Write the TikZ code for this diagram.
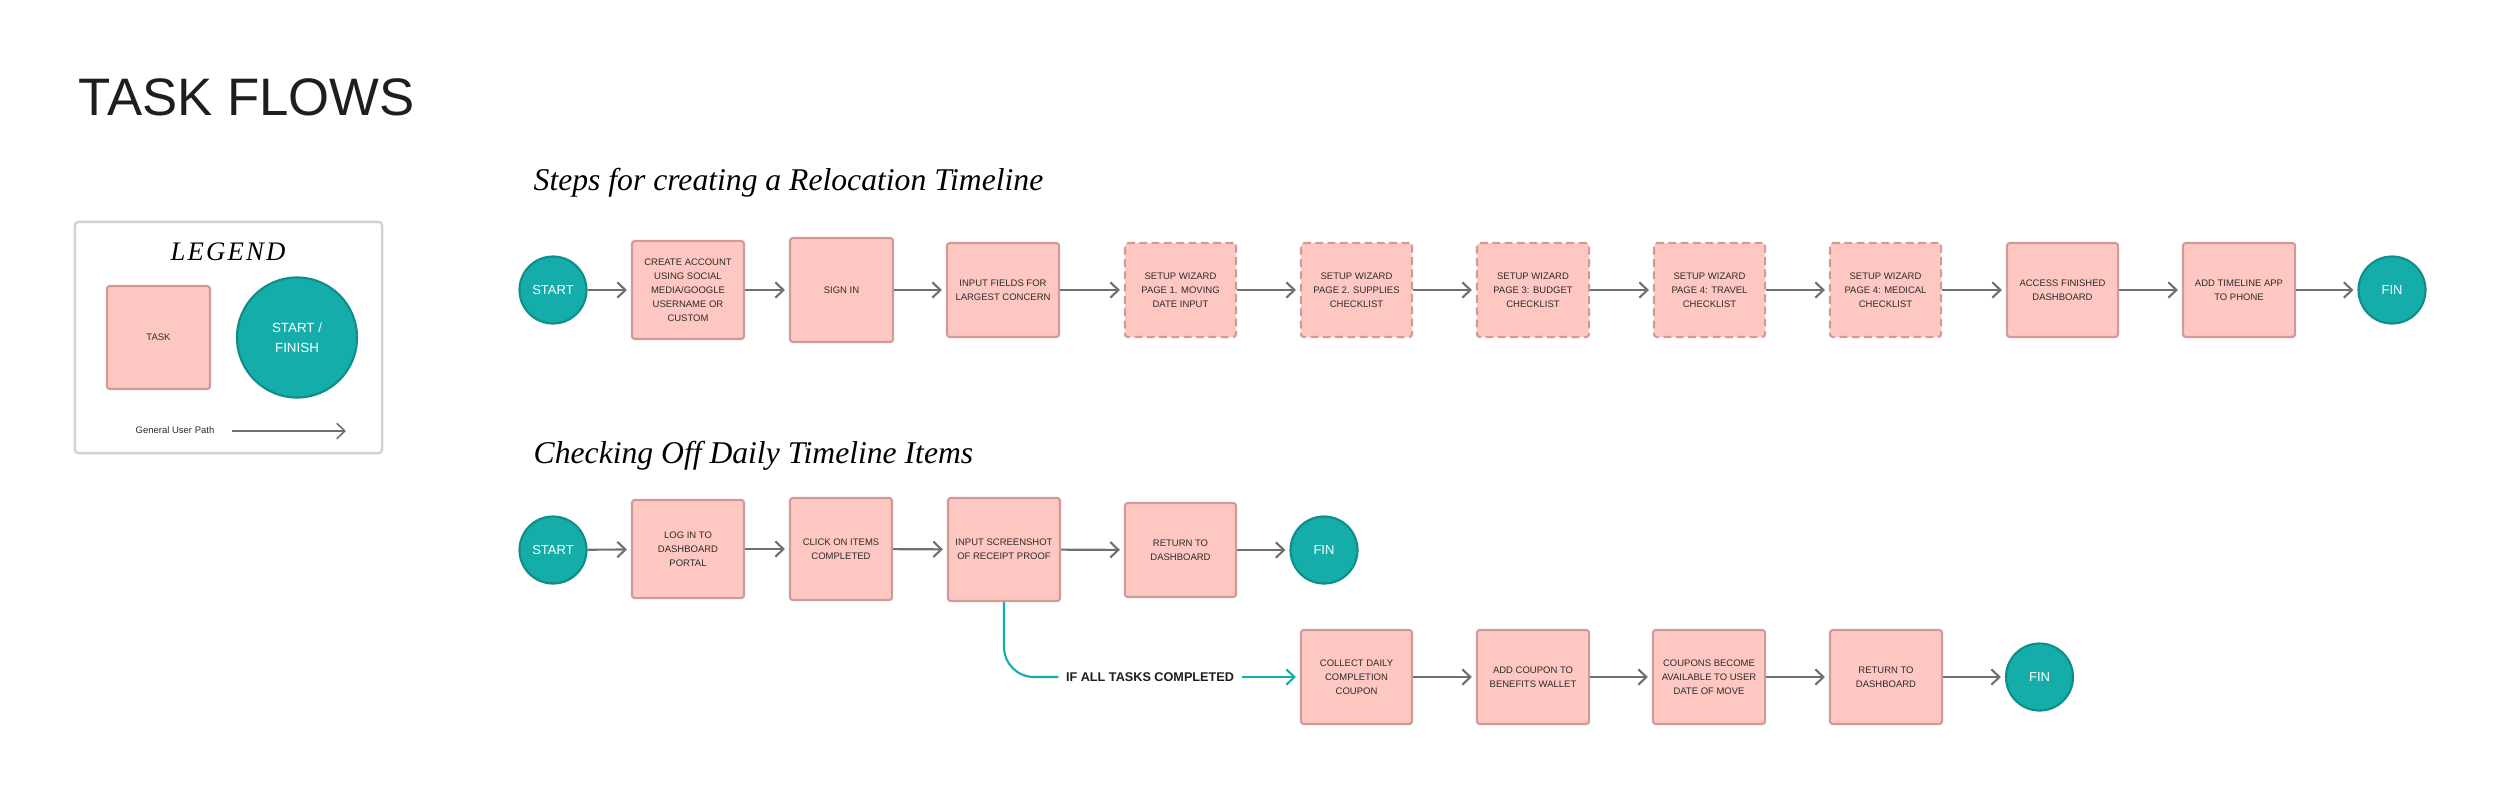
\documentclass[tikz,border=0pt]{standalone}
\usepackage{fontspec}
\setmainfont{Liberation Sans}
\newfontfamily\hand{Liberation Serif}
\usetikzlibrary{arrows.meta}
\definecolor{boxfill}{HTML}{FFC7C2}
\definecolor{boxdraw}{HTML}{CF9B98}
\definecolor{boxtext}{HTML}{2C2C2C}
\definecolor{tealc}{HTML}{14ADAA}
\definecolor{tealdark}{HTML}{0F8D89}
\definecolor{arrowgray}{HTML}{707070}
\definecolor{legendgray}{HTML}{D2D2D2}
\definecolor{titlec}{HTML}{1E1E1E}
\begin{document}
\begin{tikzpicture}[x=0.01cm,y=-0.01cm,
  task/.style={draw=boxdraw, fill=boxfill, line width=0.6pt, rounded corners=0.8pt,
    minimum width=1.12cm, minimum height=0.94cm, inner sep=0pt, align=center,
    font=\fontsize{2.7}{3.97}\selectfont, text=boxtext},
  wiz/.style={task, dash pattern=on 2.2pt off 1.3pt},
  term/.style={circle, draw=tealdark, fill=tealc, line width=0.6pt, minimum size=0.67cm,
    inner sep=0pt, text=white, font=\fontsize{3.7}{4.5}\selectfont},
  flow/.style={draw=arrowgray, line width=0.6pt,
    -{Straight Barb[length=2.3pt,width=4.4pt]}, shorten >=0.04cm},
  tflow/.style={draw=tealc, line width=0.6pt,
    -{Straight Barb[length=2.3pt,width=4.4pt]}, shorten >=0.04cm},
  heading/.style={anchor=base west, inner sep=0pt, font=\hand\itshape\fontsize{9}{10}\selectfont, text=black}
]
\useasboundingbox (0,0) rectangle (2500,799);
\fill[white] (0,0) rectangle (2500,799);

% title
\node[anchor=base west, inner sep=0pt, font=\fontsize{15}{18}\selectfont, text=titlec] (title) at (78,115) {TASK FLOWS};

% legend
\node[draw=legendgray, line width=0.7pt, rounded corners=1pt, minimum width=3.07cm, minimum height=2.31cm, inner sep=0pt] (legend) at (228.5,337.5) {};
\node[anchor=base, inner sep=0pt, font=\hand\itshape\fontsize{7.6}{9}\selectfont\addfontfeature{LetterSpace=8}] (legtitle) at (228,260) {LEGEND};
\node[task, minimum width=1.03cm, minimum height=1.03cm] (legtask) at (158.5,337.5) {TASK};
\node[term, minimum size=1.2cm, align=center, font=\fontsize{3.8}{5.7}\selectfont] (legterm) at (297,337.5) {START /\\FINISH};
\node[inner sep=0pt, font=\fontsize{2.7}{3.2}\selectfont, text=boxtext] (legpath) at (175,430) {General User Path};
\coordinate (la1) at (232,431);
\coordinate (la2) at (346,431);
\draw[flow, line width=0.45pt, shorten >=0pt] (la1) -- (la2);

% headings
\node[heading] (h1) at (533,190) {Steps for creating a Relocation Timeline};
\node[heading] (h2) at (533,463) {Checking Off Daily Timeline Items};

% row 1
\node[term] (s1) at (553,290) {START};
\node[task, minimum height=0.98cm] (b1) at (688,290) {CREATE ACCOUNT\\USING SOCIAL\\MEDIA/GOOGLE\\USERNAME OR\\CUSTOM};
\node[task, minimum width=1.03cm, minimum height=1.04cm] (b2) at (841.5,290) {SIGN IN};
\node[task] (b3) at (1003,290) {INPUT FIELDS FOR\\LARGEST CONCERN};
\node[wiz, minimum width=1.11cm] (b4) at (1180.5,290) {SETUP WIZARD\\PAGE 1. MOVING\\DATE INPUT};
\node[wiz, minimum width=1.11cm] (b5) at (1356.5,290) {SETUP WIZARD\\PAGE 2. SUPPLIES\\CHECKLIST};
\node[wiz] (b6) at (1533,290) {SETUP WIZARD\\PAGE 3: BUDGET\\CHECKLIST};
\node[wiz, minimum width=1.11cm] (b7) at (1709.5,290) {SETUP WIZARD\\PAGE 4: TRAVEL\\CHECKLIST};
\node[wiz, minimum width=1.11cm] (b8) at (1885.5,290) {SETUP WIZARD\\PAGE 4: MEDICAL\\CHECKLIST};
\node[task, minimum width=1.11cm] (b9) at (2062.5,290) {ACCESS FINISHED\\DASHBOARD};
\node[task] (b10) at (2239,290) {ADD TIMELINE APP\\TO PHONE};
\node[term] (f1) at (2392,290) {FIN};
\foreach \a/\b in {s1/b1,b1/b2,b2/b3,b3/b4,b4/b5,b5/b6,b6/b7,b7/b8,b8/b9,b9/b10,b10/f1}
  \draw[flow] (\a) -- (\b);

% row 2
\node[term] (s2) at (553,550) {START};
\node[task, minimum height=0.98cm] (l1) at (688,549) {LOG IN TO\\DASHBOARD\\PORTAL};
\node[task, minimum width=1.02cm, minimum height=1.02cm] (l2) at (841,549) {CLICK ON ITEMS\\COMPLETED};
\node[task, minimum height=1.03cm] (l3) at (1004,549.5) {INPUT SCREENSHOT\\OF RECEIPT PROOF};
\node[task, minimum width=1.11cm] (l4) at (1180.5,550) {RETURN TO\\DASHBOARD};
\node[term] (f2) at (1324,550) {FIN};
\foreach \a/\b in {s2/l1,l1/l2,l2/l3,l3/l4,l4/f2}
  \draw[flow] (\a) -- (\b);

% branch
\node[inner xsep=0.07cm, inner ysep=0pt, font=\bfseries\fontsize{3.6}{4.5}\selectfont, text=titlec] (lbl) at (1150,677) {IF ALL TASKS COMPLETED};

% row 3
\node[task, minimum width=1.11cm] (c1) at (1356.5,677) {COLLECT DAILY\\COMPLETION\\COUPON};
\node[task] (c2) at (1533,677) {ADD COUPON TO\\BENEFITS WALLET};
\node[task] (c3) at (1709,677) {COUPONS BECOME\\AVAILABLE TO USER\\DATE OF MOVE};
\node[task] (c4) at (1886,677) {RETURN TO\\DASHBOARD};
\node[term] (f3) at (2039.5,677) {FIN};

\draw[draw=tealc, line width=0.6pt, rounded corners=0.3cm] (l3.south) |- (lbl.west);
\draw[tflow] (lbl.east) -- (c1.west);
\foreach \a/\b in {c1/c2,c2/c3,c3/c4,c4/f3}
  \draw[flow] (\a) -- (\b);
\end{tikzpicture}
\end{document}
